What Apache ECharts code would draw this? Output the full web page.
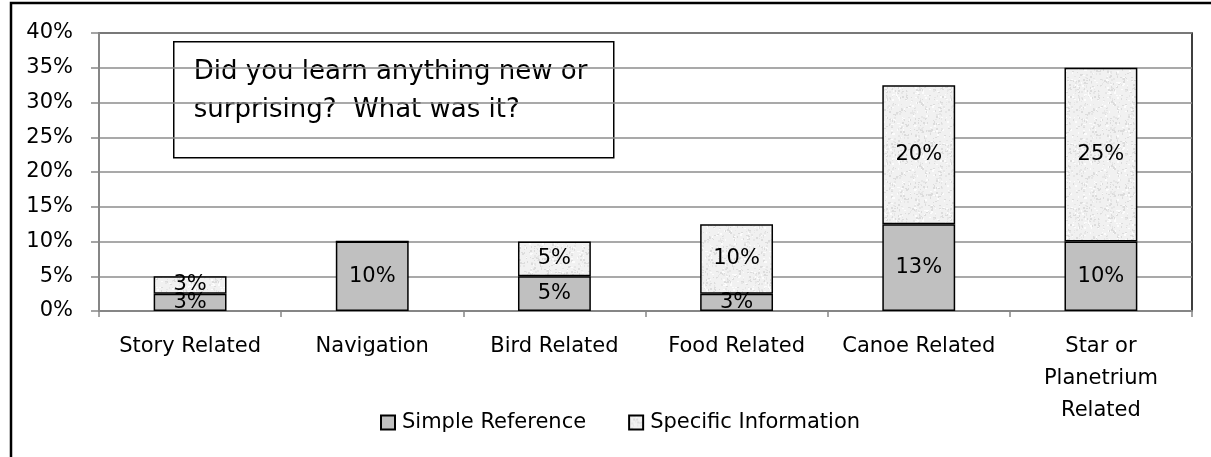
<!DOCTYPE html>
<html>
<head>
<meta charset="utf-8">
<script src="https://cdn.jsdelivr.net/npm/echarts@6/dist/echarts.min.js"></script>
<style>
  html, body { margin: 0; padding: 0; background: #fff; }
  #chart { width: 1211px; height: 457px; }
</style>
</head>
<body>
<div id="chart"></div>
<script>
// Share of answers per topic, split by kind of answer
const categories = [
  'Story Related',
  'Navigation',
  'Bird Related',
  'Food Related',
  'Canoe Related',
  'Star or\nPlanetrium\nRelated'
];
const simpleReference     = [0.025, 0.10, 0.05, 0.025, 0.125, 0.10];
const specificInformation = [0.025, 0,    0.05, 0.10,  0.20,  0.25];
const yTicks = { min: 0, max: 0.4, interval: 0.05 };
const seriesNames = ['Simple Reference', 'Specific Information'];

const FONT = 'DejaVu Sans';

// Light speckled fill (deterministic noise texture)
function speckleTexture() {
  const c = document.createElement('canvas');
  c.width = 64; c.height = 64;
  const ctx = c.getContext('2d');
  ctx.fillStyle = '#f1f1f1';
  ctx.fillRect(0, 0, 64, 64);
  let seed = 12345;
  const next = () => (seed = (seed * 16807) % 2147483647) / 2147483647;
  for (let i = 0; i < 480; i++) {
    const x = Math.floor(next() * 64);
    const y = Math.floor(next() * 64);
    const r = next();
    ctx.fillStyle = r < 0.4 ? '#dcdcdc' : (r < 0.7 ? '#e6e6e6' : '#fcfcfc');
    ctx.fillRect(x, y, 1 + Math.floor(next() * 2), 1 + Math.floor(next() * 2));
  }
  return c;
}

const pctLabel = p => {
  if (!p.value) return '';
  return Math.round(p.value * 100) + '%';
};

const chart = echarts.init(document.getElementById('chart'), null, { renderer: 'canvas' });

chart.setOption({
  animation: false,
  backgroundColor: '#fff',
  textStyle: { fontFamily: FONT },
  grid: {
    left: 99, right: 19, top: 33, bottom: 146,
    show: true, borderColor: '#000', borderWidth: 1.5,
    containLabel: false
  },
  legend: {
    data: seriesNames,
    left: 375, top: 407,
    icon: 'rect', itemWidth: 14, itemHeight: 14, itemGap: 42,
    textStyle: { fontFamily: FONT, fontSize: 21, color: '#000', padding: [0, 0, 0, 2] }
  },
  xAxis: {
    type: 'category',
    data: categories,
    axisLine: { lineStyle: { color: '#868686', width: 2 } },
    axisTick: { show: true, length: 6, lineStyle: { color: '#868686', width: 1.5 } },
    axisLabel: {
      interval: 0, margin: 20, color: '#000',
      fontFamily: FONT, fontSize: 21, lineHeight: 32
    },
    splitLine: { show: false }
  },
  yAxis: {
    type: 'value',
    min: yTicks.min, max: yTicks.max, interval: yTicks.interval,
    axisLine: { show: true, lineStyle: { color: '#868686', width: 2 } },
    axisTick: { show: true, length: 8, lineStyle: { color: '#868686', width: 1.5 } },
    axisLabel: {
      margin: 26, color: '#000', fontFamily: FONT, fontSize: 21,
      formatter: v => Math.round(v * 100) + '%'
    },
    splitLine: { lineStyle: { color: '#8c8c8c', width: 1.5 } }
  },
  series: [
    {
      name: seriesNames[0],
      type: 'bar', stack: 'total', barWidth: '40%',
      data: simpleReference,
      itemStyle: { color: '#c0c0c0', borderColor: '#000', borderWidth: 1.5 },
      label: {
        show: true, position: 'inside', color: '#000',
        fontFamily: FONT, fontSize: 21, formatter: pctLabel
      }
    },
    {
      name: seriesNames[1],
      type: 'bar', stack: 'total', barWidth: '40%',
      data: specificInformation,
      itemStyle: {
        color: { image: speckleTexture(), repeat: 'repeat' },
        borderColor: '#000', borderWidth: 1.5
      },
      label: {
        show: true, position: 'inside', color: '#000',
        fontFamily: FONT, fontSize: 21, formatter: pctLabel
      }
    }
  ],
  graphic: [
    {
      // chart frame
      type: 'rect', silent: true, z: 100,
      shape: { x: 11, y: 3, width: 1400, height: 600 },
      style: { fill: null, stroke: '#000', lineWidth: 2.5 }
    },
    {
      type: 'group', left: 173, top: 41, z: 100,
      children: [
        {
          type: 'rect',
          shape: { x: 0, y: 0, width: 440, height: 116 },
          style: { fill: '#fff', stroke: '#000', lineWidth: 1.5 }
        },
        {
          type: 'text', x: 20, y: 11,
          style: {
            text: 'Did you learn anything new or\nsurprising?  What was it?',
            font: '26px "DejaVu Sans"', lineHeight: 38, fill: '#000'
          }
        }
      ]
    }
  ]
});
</script>
</body>
</html>
